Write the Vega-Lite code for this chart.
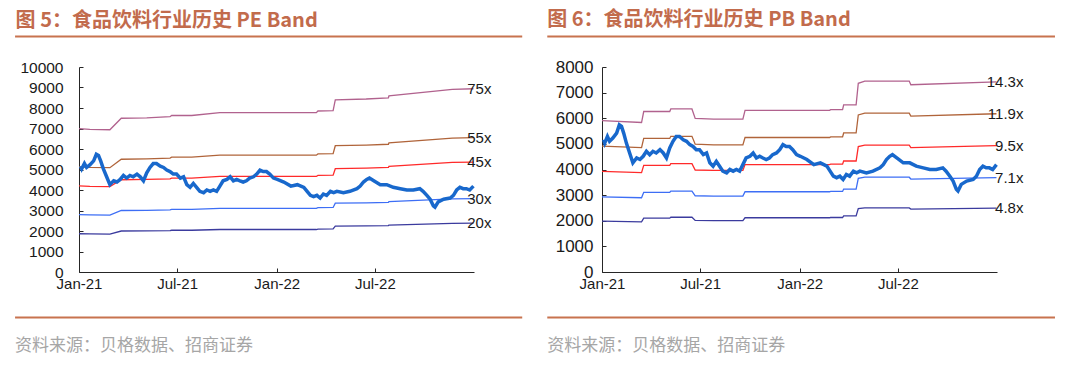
{
  "$schema": "https://vega.github.io/schema/vega-lite/v6.json",
  "background": "white",
  "padding": {"left": 14, "top": 10, "right": 0, "bottom": 0},
  "spacing": 22,
  "config": {
    "view": {"stroke": null},
    "font": "Liberation Sans",
    "axis": {"labelFont": "Liberation Sans", "labelFontSize": 15, "labelColor": "#1a1a1a", "domainColor": "#262626", "tickColor": "#262626", "grid": false, "labelOverlap": false, "labelFlush": false, "tickSize": -4, "title": null}
  },
  "datasets": {
    "idx": [
      {"date": "2021-01-04", "value": 5160}, {"date": "2021-01-06", "value": 5030}, {"date": "2021-01-11", "value": 5290},
      {"date": "2021-01-15", "value": 5100}, {"date": "2021-01-21", "value": 5225}, {"date": "2021-01-28", "value": 5420},
      {"date": "2021-02-02", "value": 5740}, {"date": "2021-02-06", "value": 5680}, {"date": "2021-02-10", "value": 5420},
      {"date": "2021-02-15", "value": 5030}, {"date": "2021-02-21", "value": 4645}, {"date": "2021-02-27", "value": 4260},
      {"date": "2021-03-06", "value": 4450}, {"date": "2021-03-12", "value": 4390}, {"date": "2021-03-18", "value": 4515},
      {"date": "2021-03-24", "value": 4710}, {"date": "2021-03-30", "value": 4580}, {"date": "2021-04-05", "value": 4710},
      {"date": "2021-04-11", "value": 4645}, {"date": "2021-04-18", "value": 4775}, {"date": "2021-04-24", "value": 4645},
      {"date": "2021-04-30", "value": 4450}, {"date": "2021-05-06", "value": 4840}, {"date": "2021-05-12", "value": 5100},
      {"date": "2021-05-18", "value": 5290}, {"date": "2021-05-24", "value": 5290}, {"date": "2021-05-31", "value": 5160},
      {"date": "2021-06-06", "value": 5100}, {"date": "2021-06-12", "value": 4970}, {"date": "2021-06-18", "value": 4900},
      {"date": "2021-06-24", "value": 4775}, {"date": "2021-06-30", "value": 4775}, {"date": "2021-07-07", "value": 4580},
      {"date": "2021-07-13", "value": 4645}, {"date": "2021-07-19", "value": 4260}, {"date": "2021-07-25", "value": 4130},
      {"date": "2021-07-31", "value": 4320}, {"date": "2021-08-06", "value": 4130}, {"date": "2021-08-12", "value": 3935},
      {"date": "2021-08-19", "value": 3870}, {"date": "2021-08-25", "value": 4000}, {"date": "2021-08-31", "value": 3935},
      {"date": "2021-09-06", "value": 4000}, {"date": "2021-09-12", "value": 3935}, {"date": "2021-09-18", "value": 4190},
      {"date": "2021-09-24", "value": 4450}, {"date": "2021-10-01", "value": 4515}, {"date": "2021-10-07", "value": 4645},
      {"date": "2021-10-13", "value": 4450}, {"date": "2021-10-19", "value": 4515}, {"date": "2021-10-25", "value": 4450},
      {"date": "2021-10-31", "value": 4390}, {"date": "2021-11-06", "value": 4450}, {"date": "2021-11-12", "value": 4580},
      {"date": "2021-11-19", "value": 4645}, {"date": "2021-11-25", "value": 4775}, {"date": "2021-12-01", "value": 4970},
      {"date": "2021-12-07", "value": 4900}, {"date": "2021-12-13", "value": 4900}, {"date": "2021-12-19", "value": 4775},
      {"date": "2021-12-26", "value": 4580}, {"date": "2022-01-02", "value": 4515}, {"date": "2022-01-14", "value": 4390},
      {"date": "2022-01-27", "value": 4190}, {"date": "2022-02-08", "value": 4260}, {"date": "2022-02-20", "value": 4130},
      {"date": "2022-02-26", "value": 3935}, {"date": "2022-03-04", "value": 3740}, {"date": "2022-03-10", "value": 3680},
      {"date": "2022-03-16", "value": 3740}, {"date": "2022-03-22", "value": 3610}, {"date": "2022-03-28", "value": 3805},
      {"date": "2022-04-03", "value": 3740}, {"date": "2022-04-10", "value": 3935}, {"date": "2022-04-16", "value": 3870},
      {"date": "2022-04-22", "value": 3935}, {"date": "2022-05-04", "value": 3870}, {"date": "2022-05-16", "value": 3935},
      {"date": "2022-05-29", "value": 4065}, {"date": "2022-06-04", "value": 4190}, {"date": "2022-06-10", "value": 4390},
      {"date": "2022-06-16", "value": 4515}, {"date": "2022-06-21", "value": 4580}, {"date": "2022-06-29", "value": 4450},
      {"date": "2022-07-11", "value": 4260}, {"date": "2022-07-23", "value": 4260}, {"date": "2022-08-04", "value": 4130},
      {"date": "2022-08-17", "value": 4065}, {"date": "2022-08-29", "value": 4000}, {"date": "2022-09-10", "value": 4000},
      {"date": "2022-09-22", "value": 4065}, {"date": "2022-09-28", "value": 3935}, {"date": "2022-10-05", "value": 3740},
      {"date": "2022-10-11", "value": 3550}, {"date": "2022-10-17", "value": 3225}, {"date": "2022-10-20", "value": 3160},
      {"date": "2022-10-26", "value": 3420}, {"date": "2022-11-05", "value": 3550}, {"date": "2022-11-17", "value": 3610},
      {"date": "2022-11-23", "value": 3740}, {"date": "2022-11-29", "value": 4000}, {"date": "2022-12-05", "value": 4130},
      {"date": "2022-12-11", "value": 4065}, {"date": "2022-12-17", "value": 4065}, {"date": "2022-12-23", "value": 4000},
      {"date": "2022-12-30", "value": 4190}
    ],
    "pe": [
      {"date": "2021-01-01", "band": "75x", "value": 6998}, {"date": "2021-01-21", "band": "75x", "value": 6960}, {"date": "2021-02-27", "band": "75x", "value": 6938},
      {"date": "2021-03-20", "band": "75x", "value": 7500}, {"date": "2021-05-06", "band": "75x", "value": 7523}, {"date": "2021-06-18", "band": "75x", "value": 7575},
      {"date": "2021-06-21", "band": "75x", "value": 7635}, {"date": "2021-07-28", "band": "75x", "value": 7635}, {"date": "2021-09-18", "band": "75x", "value": 7770},
      {"date": "2022-03-15", "band": "75x", "value": 7770}, {"date": "2022-03-18", "band": "75x", "value": 7853}, {"date": "2022-04-15", "band": "75x", "value": 7875},
      {"date": "2022-04-19", "band": "75x", "value": 8400}, {"date": "2022-06-15", "band": "75x", "value": 8438}, {"date": "2022-07-26", "band": "75x", "value": 8498},
      {"date": "2022-07-27", "band": "75x", "value": 8588}, {"date": "2022-11-21", "band": "75x", "value": 8910}, {"date": "2022-12-30", "band": "75x", "value": 8940},
      {"date": "2021-01-01", "band": "55x", "value": 5132}, {"date": "2021-01-21", "band": "55x", "value": 5104}, {"date": "2021-02-27", "band": "55x", "value": 5088},
      {"date": "2021-03-20", "band": "55x", "value": 5500}, {"date": "2021-05-06", "band": "55x", "value": 5517}, {"date": "2021-06-18", "band": "55x", "value": 5555},
      {"date": "2021-06-21", "band": "55x", "value": 5599}, {"date": "2021-07-28", "band": "55x", "value": 5599}, {"date": "2021-09-18", "band": "55x", "value": 5698},
      {"date": "2022-03-15", "band": "55x", "value": 5698}, {"date": "2022-03-18", "band": "55x", "value": 5759}, {"date": "2022-04-15", "band": "55x", "value": 5775},
      {"date": "2022-04-19", "band": "55x", "value": 6160}, {"date": "2022-06-15", "band": "55x", "value": 6188}, {"date": "2022-07-26", "band": "55x", "value": 6232},
      {"date": "2022-07-27", "band": "55x", "value": 6298}, {"date": "2022-11-21", "band": "55x", "value": 6534}, {"date": "2022-12-30", "band": "55x", "value": 6556},
      {"date": "2021-01-01", "band": "45x", "value": 4199}, {"date": "2021-01-21", "band": "45x", "value": 4176}, {"date": "2021-02-27", "band": "45x", "value": 4163},
      {"date": "2021-03-20", "band": "45x", "value": 4500}, {"date": "2021-05-06", "band": "45x", "value": 4514}, {"date": "2021-06-18", "band": "45x", "value": 4545},
      {"date": "2021-06-21", "band": "45x", "value": 4581}, {"date": "2021-07-28", "band": "45x", "value": 4581}, {"date": "2021-09-18", "band": "45x", "value": 4662},
      {"date": "2022-03-15", "band": "45x", "value": 4662}, {"date": "2022-03-18", "band": "45x", "value": 4712}, {"date": "2022-04-15", "band": "45x", "value": 4725},
      {"date": "2022-04-19", "band": "45x", "value": 5040}, {"date": "2022-06-15", "band": "45x", "value": 5063}, {"date": "2022-07-26", "band": "45x", "value": 5099},
      {"date": "2022-07-27", "band": "45x", "value": 5153}, {"date": "2022-11-21", "band": "45x", "value": 5346}, {"date": "2022-12-30", "band": "45x", "value": 5364},
      {"date": "2021-01-01", "band": "30x", "value": 2799}, {"date": "2021-01-21", "band": "30x", "value": 2784}, {"date": "2021-02-27", "band": "30x", "value": 2775},
      {"date": "2021-03-20", "band": "30x", "value": 3000}, {"date": "2021-05-06", "band": "30x", "value": 3009}, {"date": "2021-06-18", "band": "30x", "value": 3030},
      {"date": "2021-06-21", "band": "30x", "value": 3054}, {"date": "2021-07-28", "band": "30x", "value": 3054}, {"date": "2021-09-18", "band": "30x", "value": 3108},
      {"date": "2022-03-15", "band": "30x", "value": 3108}, {"date": "2022-03-18", "band": "30x", "value": 3141}, {"date": "2022-04-15", "band": "30x", "value": 3150},
      {"date": "2022-04-19", "band": "30x", "value": 3360}, {"date": "2022-06-15", "band": "30x", "value": 3375}, {"date": "2022-07-26", "band": "30x", "value": 3399},
      {"date": "2022-07-27", "band": "30x", "value": 3435}, {"date": "2022-11-21", "band": "30x", "value": 3564}, {"date": "2022-12-30", "band": "30x", "value": 3576},
      {"date": "2021-01-01", "band": "20x", "value": 1866}, {"date": "2021-01-21", "band": "20x", "value": 1856}, {"date": "2021-02-27", "band": "20x", "value": 1850},
      {"date": "2021-03-20", "band": "20x", "value": 2000}, {"date": "2021-05-06", "band": "20x", "value": 2006}, {"date": "2021-06-18", "band": "20x", "value": 2020},
      {"date": "2021-06-21", "band": "20x", "value": 2036}, {"date": "2021-07-28", "band": "20x", "value": 2036}, {"date": "2021-09-18", "band": "20x", "value": 2072},
      {"date": "2022-03-15", "band": "20x", "value": 2072}, {"date": "2022-03-18", "band": "20x", "value": 2094}, {"date": "2022-04-15", "band": "20x", "value": 2100},
      {"date": "2022-04-19", "band": "20x", "value": 2240}, {"date": "2022-06-15", "band": "20x", "value": 2250}, {"date": "2022-07-26", "band": "20x", "value": 2266},
      {"date": "2022-07-27", "band": "20x", "value": 2290}, {"date": "2022-11-21", "band": "20x", "value": 2376}, {"date": "2022-12-30", "band": "20x", "value": 2384}
    ],
    "pb": [
      {"date": "2021-01-01", "band": "14.3x", "value": 5906}, {"date": "2021-03-15", "band": "14.3x", "value": 5834}, {"date": "2021-03-19", "band": "14.3x", "value": 6263},
      {"date": "2021-05-06", "band": "14.3x", "value": 6263}, {"date": "2021-05-08", "band": "14.3x", "value": 6364}, {"date": "2021-06-16", "band": "14.3x", "value": 6364},
      {"date": "2021-06-22", "band": "14.3x", "value": 5992}, {"date": "2021-07-26", "band": "14.3x", "value": 5963}, {"date": "2021-09-18", "band": "14.3x", "value": 5963},
      {"date": "2021-09-22", "band": "14.3x", "value": 6306}, {"date": "2022-02-25", "band": "14.3x", "value": 6306}, {"date": "2022-02-27", "band": "14.3x", "value": 6335},
      {"date": "2022-03-21", "band": "14.3x", "value": 6335}, {"date": "2022-03-23", "band": "14.3x", "value": 6521}, {"date": "2022-04-15", "band": "14.3x", "value": 6521},
      {"date": "2022-04-19", "band": "14.3x", "value": 7365}, {"date": "2022-05-01", "band": "14.3x", "value": 7450}, {"date": "2022-07-22", "band": "14.3x", "value": 7450},
      {"date": "2022-07-25", "band": "14.3x", "value": 7307}, {"date": "2022-12-30", "band": "14.3x", "value": 7422},
      {"date": "2021-01-01", "band": "11.9x", "value": 4915}, {"date": "2021-03-15", "band": "11.9x", "value": 4855}, {"date": "2021-03-19", "band": "11.9x", "value": 5212},
      {"date": "2021-05-06", "band": "11.9x", "value": 5212}, {"date": "2021-05-08", "band": "11.9x", "value": 5296}, {"date": "2021-06-16", "band": "11.9x", "value": 5296},
      {"date": "2021-06-22", "band": "11.9x", "value": 4986}, {"date": "2021-07-26", "band": "11.9x", "value": 4962}, {"date": "2021-09-18", "band": "11.9x", "value": 4962},
      {"date": "2021-09-22", "band": "11.9x", "value": 5248}, {"date": "2022-02-25", "band": "11.9x", "value": 5248}, {"date": "2022-02-27", "band": "11.9x", "value": 5272},
      {"date": "2022-03-21", "band": "11.9x", "value": 5272}, {"date": "2022-03-23", "band": "11.9x", "value": 5426}, {"date": "2022-04-15", "band": "11.9x", "value": 5426},
      {"date": "2022-04-19", "band": "11.9x", "value": 6129}, {"date": "2022-05-01", "band": "11.9x", "value": 6200}, {"date": "2022-07-22", "band": "11.9x", "value": 6200},
      {"date": "2022-07-25", "band": "11.9x", "value": 6081}, {"date": "2022-12-30", "band": "11.9x", "value": 6176},
      {"date": "2021-01-01", "band": "9.5x", "value": 3924}, {"date": "2021-03-15", "band": "9.5x", "value": 3876}, {"date": "2021-03-19", "band": "9.5x", "value": 4161},
      {"date": "2021-05-06", "band": "9.5x", "value": 4161}, {"date": "2021-05-08", "band": "9.5x", "value": 4228}, {"date": "2021-06-16", "band": "9.5x", "value": 4228},
      {"date": "2021-06-22", "band": "9.5x", "value": 3981}, {"date": "2021-07-26", "band": "9.5x", "value": 3962}, {"date": "2021-09-18", "band": "9.5x", "value": 3962},
      {"date": "2021-09-22", "band": "9.5x", "value": 4190}, {"date": "2022-02-25", "band": "9.5x", "value": 4190}, {"date": "2022-02-27", "band": "9.5x", "value": 4209},
      {"date": "2022-03-21", "band": "9.5x", "value": 4209}, {"date": "2022-03-23", "band": "9.5x", "value": 4332}, {"date": "2022-04-15", "band": "9.5x", "value": 4332},
      {"date": "2022-04-19", "band": "9.5x", "value": 4893}, {"date": "2022-05-01", "band": "9.5x", "value": 4950}, {"date": "2022-07-22", "band": "9.5x", "value": 4950},
      {"date": "2022-07-25", "band": "9.5x", "value": 4855}, {"date": "2022-12-30", "band": "9.5x", "value": 4931},
      {"date": "2021-01-01", "band": "7.1x", "value": 2932}, {"date": "2021-03-15", "band": "7.1x", "value": 2897}, {"date": "2021-03-19", "band": "7.1x", "value": 3110},
      {"date": "2021-05-06", "band": "7.1x", "value": 3110}, {"date": "2021-05-08", "band": "7.1x", "value": 3160}, {"date": "2021-06-16", "band": "7.1x", "value": 3160},
      {"date": "2021-06-22", "band": "7.1x", "value": 2975}, {"date": "2021-07-26", "band": "7.1x", "value": 2961}, {"date": "2021-09-18", "band": "7.1x", "value": 2961},
      {"date": "2021-09-22", "band": "7.1x", "value": 3131}, {"date": "2022-02-25", "band": "7.1x", "value": 3131}, {"date": "2022-02-27", "band": "7.1x", "value": 3145},
      {"date": "2022-03-21", "band": "7.1x", "value": 3145}, {"date": "2022-03-23", "band": "7.1x", "value": 3238}, {"date": "2022-04-15", "band": "7.1x", "value": 3238},
      {"date": "2022-04-19", "band": "7.1x", "value": 3657}, {"date": "2022-05-01", "band": "7.1x", "value": 3699}, {"date": "2022-07-22", "band": "7.1x", "value": 3699},
      {"date": "2022-07-25", "band": "7.1x", "value": 3628}, {"date": "2022-12-30", "band": "7.1x", "value": 3685},
      {"date": "2021-01-01", "band": "4.8x", "value": 1982}, {"date": "2021-03-15", "band": "4.8x", "value": 1958}, {"date": "2021-03-19", "band": "4.8x", "value": 2102},
      {"date": "2021-05-06", "band": "4.8x", "value": 2102}, {"date": "2021-05-08", "band": "4.8x", "value": 2136}, {"date": "2021-06-16", "band": "4.8x", "value": 2136},
      {"date": "2021-06-22", "band": "4.8x", "value": 2011}, {"date": "2021-07-26", "band": "4.8x", "value": 2002}, {"date": "2021-09-18", "band": "4.8x", "value": 2002},
      {"date": "2021-09-22", "band": "4.8x", "value": 2117}, {"date": "2022-02-25", "band": "4.8x", "value": 2117}, {"date": "2022-02-27", "band": "4.8x", "value": 2126},
      {"date": "2022-03-21", "band": "4.8x", "value": 2126}, {"date": "2022-03-23", "band": "4.8x", "value": 2189}, {"date": "2022-04-15", "band": "4.8x", "value": 2189},
      {"date": "2022-04-19", "band": "4.8x", "value": 2472}, {"date": "2022-05-01", "band": "4.8x", "value": 2501}, {"date": "2022-07-22", "band": "4.8x", "value": 2501},
      {"date": "2022-07-25", "band": "4.8x", "value": 2453}, {"date": "2022-12-30", "band": "4.8x", "value": 2491}
    ]
  },
  "hconcat": [
    {
      "width": 395,
      "height": 205,
      "layer": [
        {
          "data": {"name": "pe"},
          "mark": {"type": "line", "strokeWidth": 1.3, "clip": false},
          "encoding": {
            "x": {"field": "date", "type": "temporal", "title": null,
              "scale": {"domain": [{"year": 2021, "month": 1, "date": 1}, {"year": 2022, "month": 12, "date": 31}], "nice": false},
              "axis": {"format": "%b-%y", "labelPadding": 8, "values": [{"year": 2021, "month": 1, "date": 1}, {"year": 2021, "month": 7, "date": 1}, {"year": 2022, "month": 1, "date": 1}, {"year": 2022, "month": 7, "date": 1}]}},
            "y": {"field": "value", "type": "quantitative", "title": null,
              "scale": {"domain": [0, 10000], "nice": false},
              "axis": {"format": "d", "labelPadding": 20, "labelFontSize": 15.5, "values": [0, 1000, 2000, 3000, 4000, 5000, 6000, 7000, 8000, 9000, 10000]}},
            "color": {"field": "band", "type": "nominal", "legend": null,
              "scale": {"domain": ["75x", "55x", "45x", "30x", "20x"], "range": ["#b1628e", "#b0643a", "#ff2a2a", "#3d6ef5", "#3b3b9e"]}}
          }
        },
        {
          "data": {"name": "idx"},
          "mark": {"type": "line", "color": "#1868cc", "strokeWidth": 3.5},
          "encoding": {
            "x": {"field": "date", "type": "temporal", "title": null,
              "axis": {"format": "%b-%y", "labelPadding": 8, "values": [{"year": 2021, "month": 1, "date": 1}, {"year": 2021, "month": 7, "date": 1}, {"year": 2022, "month": 1, "date": 1}, {"year": 2022, "month": 7, "date": 1}]}},
            "y": {"field": "value", "type": "quantitative", "title": null,
              "axis": {"format": "d", "labelPadding": 20, "labelFontSize": 15.5, "values": [0, 1000, 2000, 3000, 4000, 5000, 6000, 7000, 8000, 9000, 10000]}}
          }
        },
        {
          "data": {"name": "pe"},
          "mark": {"type": "text", "align": "right", "baseline": "middle", "dx": 18, "fontSize": 15, "font": "Liberation Sans", "color": "#1a1a1a", "clip": false},
          "encoding": {
            "x": {"field": "date", "aggregate": "max", "type": "temporal", "title": null,
              "axis": {"format": "%b-%y", "labelPadding": 8, "values": [{"year": 2021, "month": 1, "date": 1}, {"year": 2021, "month": 7, "date": 1}, {"year": 2022, "month": 1, "date": 1}, {"year": 2022, "month": 7, "date": 1}]}},
            "y": {"field": "value", "aggregate": {"argmax": "date"}, "type": "quantitative", "title": null,
              "axis": {"format": "d", "labelPadding": 20, "labelFontSize": 15.5, "values": [0, 1000, 2000, 3000, 4000, 5000, 6000, 7000, 8000, 9000, 10000]}},
            "text": {"field": "band", "type": "nominal"}
          }
        },
        {
          "data": {"values": [{"part": "top rule"}]},
          "mark": {"type": "rule", "color": "#c8734f", "strokeWidth": 2, "clip": false},
          "encoding": {
            "x": {"datum": {"year": 2020, "month": 9, "date": 5}, "type": "temporal", "title": null,
              "axis": {"format": "%b-%y", "labelPadding": 8, "values": [{"year": 2021, "month": 1, "date": 1}, {"year": 2021, "month": 7, "date": 1}, {"year": 2022, "month": 1, "date": 1}, {"year": 2022, "month": 7, "date": 1}]}},
            "x2": {"datum": {"year": 2023, "month": 3, "date": 30}},
            "y": {"datum": 11493, "type": "quantitative", "title": null,
              "axis": {"format": "d", "labelPadding": 20, "labelFontSize": 15.5, "values": [0, 1000, 2000, 3000, 4000, 5000, 6000, 7000, 8000, 9000, 10000]}}
          }
        },
        {
          "data": {"values": [{"part": "bottom rule"}]},
          "mark": {"type": "rule", "color": "#c8734f", "strokeWidth": 2, "clip": false},
          "encoding": {
            "x": {"datum": {"year": 2020, "month": 9, "date": 5}, "type": "temporal", "title": null,
              "axis": {"format": "%b-%y", "labelPadding": 8, "values": [{"year": 2021, "month": 1, "date": 1}, {"year": 2021, "month": 7, "date": 1}, {"year": 2022, "month": 1, "date": 1}, {"year": 2022, "month": 7, "date": 1}]}},
            "x2": {"datum": {"year": 2023, "month": 3, "date": 30}},
            "y": {"datum": -2215, "type": "quantitative", "title": null,
              "axis": {"format": "d", "labelPadding": 20, "labelFontSize": 15.5, "values": [0, 1000, 2000, 3000, 4000, 5000, 6000, 7000, 8000, 9000, 10000]}}
          }
        },
        {
          "data": {"values": [{"label": "图 5：食品饮料行业历史 PE Band"}]},
          "mark": {"type": "text", "align": "left", "baseline": "middle", "font": "Noto Sans CJK SC", "fontWeight": "bold", "fontSize": 20, "color": "#c26b4c", "clip": false},
          "encoding": {
            "x": {"datum": {"year": 2020, "month": 9, "date": 6}, "type": "temporal", "title": null,
              "axis": {"format": "%b-%y", "labelPadding": 8, "values": [{"year": 2021, "month": 1, "date": 1}, {"year": 2021, "month": 7, "date": 1}, {"year": 2022, "month": 1, "date": 1}, {"year": 2022, "month": 7, "date": 1}]}},
            "y": {"datum": 12268, "type": "quantitative", "title": null,
              "axis": {"format": "d", "labelPadding": 20, "labelFontSize": 15.5, "values": [0, 1000, 2000, 3000, 4000, 5000, 6000, 7000, 8000, 9000, 10000]}},
            "text": {"field": "label", "type": "nominal"}
          }
        },
        {
          "data": {"values": [{"label": "资料来源：贝格数据、招商证券"}]},
          "mark": {"type": "text", "align": "left", "baseline": "middle", "font": "Noto Sans CJK SC", "fontSize": 17, "color": "#a6a6a6", "clip": false},
          "encoding": {
            "x": {"datum": {"year": 2020, "month": 9, "date": 5}, "type": "temporal", "title": null,
              "axis": {"format": "%b-%y", "labelPadding": 8, "values": [{"year": 2021, "month": 1, "date": 1}, {"year": 2021, "month": 7, "date": 1}, {"year": 2022, "month": 1, "date": 1}, {"year": 2022, "month": 7, "date": 1}]}},
            "y": {"datum": -3629, "type": "quantitative", "title": null,
              "axis": {"format": "d", "labelPadding": 20, "labelFontSize": 15.5, "values": [0, 1000, 2000, 3000, 4000, 5000, 6000, 7000, 8000, 9000, 10000]}},
            "text": {"field": "label", "type": "nominal"}
          }
        }
      ]
    },
    {
      "width": 395,
      "height": 205,
      "layer": [
        {
          "data": {"name": "pb"},
          "mark": {"type": "line", "strokeWidth": 1.3, "clip": false},
          "encoding": {
            "x": {"field": "date", "type": "temporal", "title": null,
              "scale": {"domain": [{"year": 2021, "month": 1, "date": 1}, {"year": 2022, "month": 12, "date": 31}], "nice": false},
              "axis": {"format": "%b-%y", "labelPadding": 8, "values": [{"year": 2021, "month": 1, "date": 1}, {"year": 2021, "month": 7, "date": 1}, {"year": 2022, "month": 1, "date": 1}, {"year": 2022, "month": 7, "date": 1}]}},
            "y": {"field": "value", "type": "quantitative", "title": null,
              "scale": {"domain": [0, 8000], "nice": false},
              "axis": {"format": "d", "labelPadding": 13, "labelFontSize": 17, "values": [0, 1000, 2000, 3000, 4000, 5000, 6000, 7000, 8000]}},
            "color": {"field": "band", "type": "nominal", "legend": null,
              "scale": {"domain": ["14.3x", "11.9x", "9.5x", "7.1x", "4.8x"], "range": ["#a24a7c", "#a3501e", "#ff2a2a", "#6f9bff", "#1a1a8c"]}}
          }
        },
        {
          "data": {"name": "idx"},
          "mark": {"type": "line", "color": "#1868cc", "strokeWidth": 3.5},
          "encoding": {
            "x": {"field": "date", "type": "temporal", "title": null,
              "axis": {"format": "%b-%y", "labelPadding": 8, "values": [{"year": 2021, "month": 1, "date": 1}, {"year": 2021, "month": 7, "date": 1}, {"year": 2022, "month": 1, "date": 1}, {"year": 2022, "month": 7, "date": 1}]}},
            "y": {"field": "value", "type": "quantitative", "title": null,
              "axis": {"format": "d", "labelPadding": 13, "labelFontSize": 17, "values": [0, 1000, 2000, 3000, 4000, 5000, 6000, 7000, 8000]}}
          }
        },
        {
          "data": {"name": "pb"},
          "mark": {"type": "text", "align": "right", "baseline": "middle", "dx": 27, "fontSize": 15, "font": "Liberation Sans", "color": "#1a1a1a", "clip": false},
          "encoding": {
            "x": {"field": "date", "aggregate": "max", "type": "temporal", "title": null,
              "axis": {"format": "%b-%y", "labelPadding": 8, "values": [{"year": 2021, "month": 1, "date": 1}, {"year": 2021, "month": 7, "date": 1}, {"year": 2022, "month": 1, "date": 1}, {"year": 2022, "month": 7, "date": 1}]}},
            "y": {"field": "value", "aggregate": {"argmax": "date"}, "type": "quantitative", "title": null,
              "axis": {"format": "d", "labelPadding": 13, "labelFontSize": 17, "values": [0, 1000, 2000, 3000, 4000, 5000, 6000, 7000, 8000]}},
            "text": {"field": "band", "type": "nominal"}
          }
        },
        {
          "data": {"values": [{"part": "top rule"}]},
          "mark": {"type": "rule", "color": "#c8734f", "strokeWidth": 2, "clip": false},
          "encoding": {
            "x": {"datum": {"year": 2020, "month": 9, "date": 22}, "type": "temporal", "title": null,
              "axis": {"format": "%b-%y", "labelPadding": 8, "values": [{"year": 2021, "month": 1, "date": 1}, {"year": 2021, "month": 7, "date": 1}, {"year": 2022, "month": 1, "date": 1}, {"year": 2022, "month": 7, "date": 1}]}},
            "x2": {"datum": {"year": 2023, "month": 4, "date": 17}},
            "y": {"datum": 9194, "type": "quantitative", "title": null,
              "axis": {"format": "d", "labelPadding": 13, "labelFontSize": 17, "values": [0, 1000, 2000, 3000, 4000, 5000, 6000, 7000, 8000]}}
          }
        },
        {
          "data": {"values": [{"part": "bottom rule"}]},
          "mark": {"type": "rule", "color": "#c8734f", "strokeWidth": 2, "clip": false},
          "encoding": {
            "x": {"datum": {"year": 2020, "month": 9, "date": 22}, "type": "temporal", "title": null,
              "axis": {"format": "%b-%y", "labelPadding": 8, "values": [{"year": 2021, "month": 1, "date": 1}, {"year": 2021, "month": 7, "date": 1}, {"year": 2022, "month": 1, "date": 1}, {"year": 2022, "month": 7, "date": 1}]}},
            "x2": {"datum": {"year": 2023, "month": 4, "date": 17}},
            "y": {"datum": -1772, "type": "quantitative", "title": null,
              "axis": {"format": "d", "labelPadding": 13, "labelFontSize": 17, "values": [0, 1000, 2000, 3000, 4000, 5000, 6000, 7000, 8000]}}
          }
        },
        {
          "data": {"values": [{"label": "图 6：食品饮料行业历史 PB Band"}]},
          "mark": {"type": "text", "align": "left", "baseline": "middle", "font": "Noto Sans CJK SC", "fontWeight": "bold", "fontSize": 20, "color": "#c26b4c", "clip": false},
          "encoding": {
            "x": {"datum": {"year": 2020, "month": 9, "date": 22}, "type": "temporal", "title": null,
              "axis": {"format": "%b-%y", "labelPadding": 8, "values": [{"year": 2021, "month": 1, "date": 1}, {"year": 2021, "month": 7, "date": 1}, {"year": 2022, "month": 1, "date": 1}, {"year": 2022, "month": 7, "date": 1}]}},
            "y": {"datum": 9815, "type": "quantitative", "title": null,
              "axis": {"format": "d", "labelPadding": 13, "labelFontSize": 17, "values": [0, 1000, 2000, 3000, 4000, 5000, 6000, 7000, 8000]}},
            "text": {"field": "label", "type": "nominal"}
          }
        },
        {
          "data": {"values": [{"label": "资料来源：贝格数据、招商证券"}]},
          "mark": {"type": "text", "align": "left", "baseline": "middle", "font": "Noto Sans CJK SC", "fontSize": 17, "color": "#a6a6a6", "clip": false},
          "encoding": {
            "x": {"datum": {"year": 2020, "month": 9, "date": 22}, "type": "temporal", "title": null,
              "axis": {"format": "%b-%y", "labelPadding": 8, "values": [{"year": 2021, "month": 1, "date": 1}, {"year": 2021, "month": 7, "date": 1}, {"year": 2022, "month": 1, "date": 1}, {"year": 2022, "month": 7, "date": 1}]}},
            "y": {"datum": -2903, "type": "quantitative", "title": null,
              "axis": {"format": "d", "labelPadding": 13, "labelFontSize": 17, "values": [0, 1000, 2000, 3000, 4000, 5000, 6000, 7000, 8000]}},
            "text": {"field": "label", "type": "nominal"}
          }
        }
      ]
    }
  ]
}
